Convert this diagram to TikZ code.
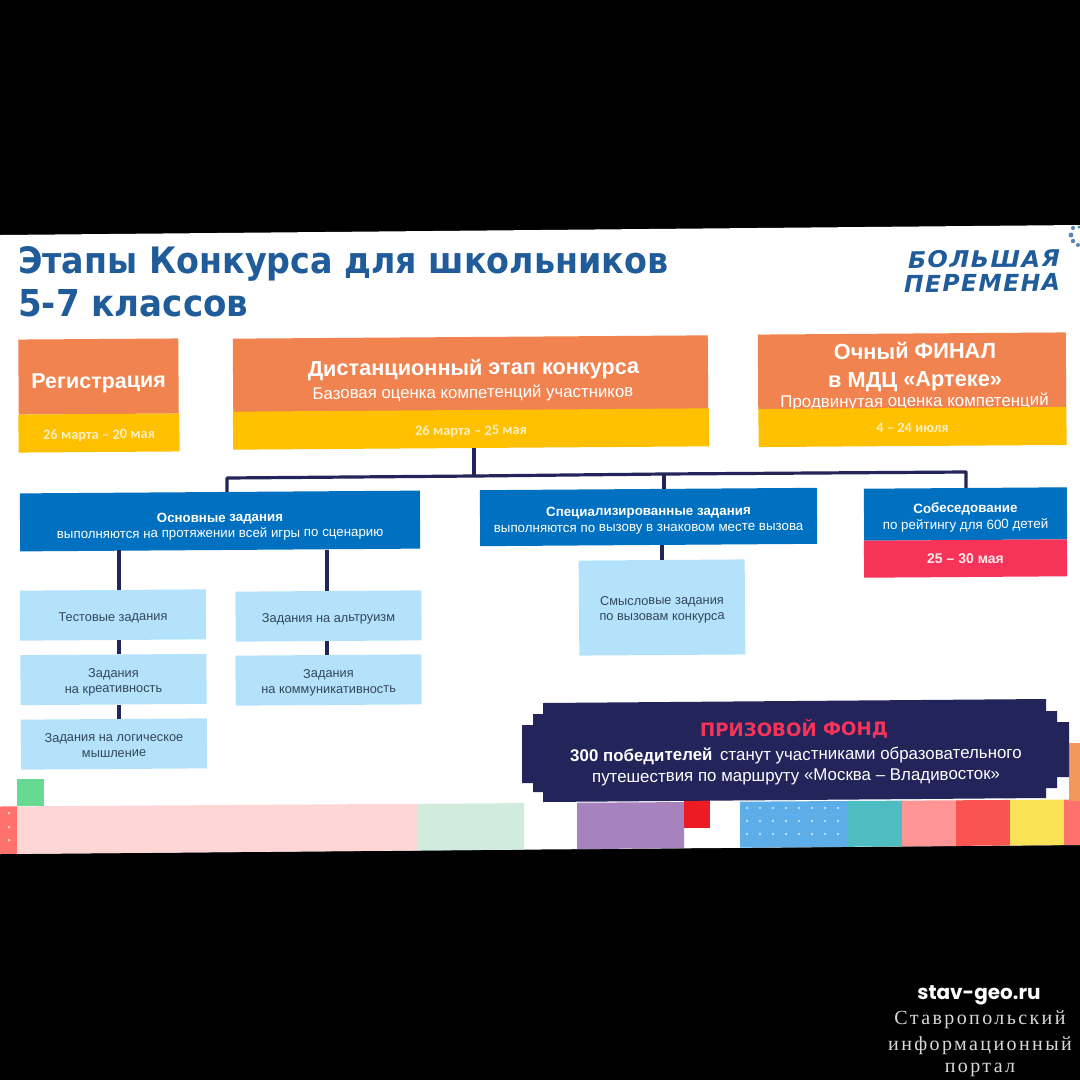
\documentclass[tikz,border=0pt]{standalone}
\usepackage{fontspec}
\setmainfont{Liberation Sans}
\newfontfamily\disp{DejaVu Sans}[BoldFont={DejaVu Sans Bold}]
\newfontfamily\logofont{DejaVu Sans}[BoldItalicFont={DejaVu Sans Bold Oblique},LetterSpace=6]
\newfontfamily\datefont{Carlito}
\newfontfamily\wmsans{Poppins}
\newfontfamily\wmserif{Liberation Serif}[LetterSpace=12]
\definecolor{orng}{HTML}{F0834F}
\definecolor{yel}{HTML}{FFC000}
\definecolor{blu}{HTML}{0070C0}
\definecolor{lblu}{HTML}{B4E2FB}
\definecolor{rd}{HTML}{F6345A}
\definecolor{navy}{HTML}{22245A}
\definecolor{ttl}{HTML}{1F5C99}
\definecolor{pale}{HTML}{FFEFC0}
\definecolor{ltxt}{HTML}{33465A}
\definecolor{spink}{HTML}{FFD6D6}
\definecolor{sgreen}{HTML}{CFECDF}
\definecolor{spurple}{HTML}{A682BE}
\definecolor{sred}{HTML}{ED1C24}
\definecolor{sblue}{HTML}{5DAEE8}
\definecolor{steal}{HTML}{4DBDC2}
\definecolor{ssalmon}{HTML}{FF9595}
\definecolor{stomato}{HTML}{F95450}
\definecolor{syellow}{HTML}{FBE357}
\definecolor{scoral}{HTML}{FF716D}
\definecolor{sorange}{HTML}{F3975C}
\definecolor{smint}{HTML}{66D993}
\newcommand{\fsl}[2]{\fontsize{#1}{#2}\selectfont}
\newcommand{\tx}[2]{\smash{\raisebox{#1pt}{\begin{tabular}{@{}c@{}}#2\end{tabular}}}}
\newcommand{\stripbar}[3]{\fill[#3] (#1,{806.5-0.0065*#1}) -- (#2,{806.5-0.0065*#2}) -- (#2,{854-0.0085*#2}) -- (#1,{854-0.0085*#1}) -- cycle;}
\tikzset{
 tilt/.style={rotate=0.4,inner sep=0pt,align=center,anchor=center},
 stagebox/.style={tilt,fill=orng,text=white},
 datebox/.style={tilt,fill=yel,text=pale,font=\datefont\bfseries\fsl{14.4}{16},minimum height=38pt},
 bluebox/.style={tilt,fill=blu,text=white},
 lightbox/.style={tilt,fill=lblu,text=ltxt,font=\fsl{12.8}{15.5},minimum width=186pt,minimum height=50pt},
 link/.style={draw=navy,line width=3.2pt},
 titletext/.style={text=ttl,inner sep=0pt,anchor=west},
 wmline/.style={text=white!85!black,inner sep=0pt,font=\wmserif\fsl{20}{22}},
}
\begin{document}
\begin{tikzpicture}[x=1pt,y=-1pt]
\useasboundingbox (0,0) rectangle (1080,1080);
\fill[black] (0,0) rectangle (1080,1080);
\fill[white] (0,235) -- (1080,225) -- (1080,845) -- (0,854) -- cycle;
% title
\node[titletext] (t1) at (18,264) {\resizebox{650pt}{27pt}{\disp\bfseries Этапы Конкурса для школьников}};
\node[titletext] (t2) at (18,303) {\resizebox{230pt}{27pt}{\disp\bfseries 5-7 классов}};
% logo
\node[text=ttl,inner sep=0pt,rotate=0.5] (logo1) at (984,259) {\resizebox{152pt}{17pt}{\logofont\bfseries\itshape БОЛЬШАЯ}};
\node[text=ttl,inner sep=0pt,rotate=0.5] (logo2) at (982,283) {\resizebox{156pt}{17pt}{\logofont\bfseries\itshape ПЕРЕМЕНА}};
\foreach \px/\py/\r in {1073/228/2,1071/235/2.4,1073/241/2.2,1078/245/2,1079/227/1.6}{\fill[ttl!75] (\px,\py) circle (\r pt);}
% bottom strip
\stripbar{0}{17}{scoral}
\stripbar{17}{418}{spink}
\stripbar{418}{524}{sgreen}
\stripbar{577}{684}{spurple}
\fill[sred] (684,800) rectangle (710,828);
\stripbar{740}{848}{sblue}
\stripbar{848}{902}{steal}
\stripbar{902}{956}{ssalmon}
\stripbar{956}{1010}{stomato}
\stripbar{1010}{1064}{syellow}
\stripbar{1064}{1080}{scoral}
\fill[sorange] (1069,743) rectangle (1080,801);
\fill[smint] (17,779) rectangle (44,806);
\foreach \dy in {813,827,840}{\fill[white!70!scoral] (9,\dy) circle (1.5pt);}
\foreach \dy in {808,821,834}{\foreach \dx in {747,760,...,848}{\fill[white!60!sblue] (\dx,\dy) circle (1.3pt);}}
% banner
\fill[navy] (543,703) -- (1046,699) -- (1046,711) -- (1057,711) -- (1057,722) -- (1069,722) -- (1069,777) -- (1057,777) -- (1057,788) -- (1046,788) -- (1046,798) -- (543,802) -- (543,792) -- (533,792) -- (533,783) -- (522,783) -- (522,725) -- (533,725) -- (533,714) -- (543,714) -- cycle;
\node[inner sep=0pt,text=rd,rotate=0.4] (prize) at (794,729) {\resizebox{188pt}{17pt}{\disp\bfseries ПРИЗОВОЙ ФОНД}};
\node[inner sep=0pt,text=white,align=center,font=\fsl{16.9}{21},rotate=0.4] (prizetext) at (796,766) {\textbf{300 победителей}\, станут участниками образовательного\\путешествия по маршруту «Москва – Владивосток»};
% stages
\node[stagebox,minimum width=160pt,minimum height=75pt,font=\bfseries\fsl{21.5}{24}] (reg) at (98.5,376.5) {\tx{-12}{Регистрация}};
\node[datebox,minimum width=161pt] (regdate) at (99,433) {\tx{-6.5}{26 марта – 20 мая}};
\node[stagebox,minimum width=475pt,minimum height=74pt,font=\fsl{16.8}{23}] (dist) at (470.5,374) {\tx{-12.25}{{\bfseries\fsl{21.7}{24} Дистанционный этап конкурса}\\{\fsl{16.8}{18} Базовая оценка компетенций участников}}};
\node[datebox,minimum width=476pt] (distdate) at (471,429) {\tx{-6.5}{26 марта – 25 мая}};
\node[stagebox,minimum width=308pt,minimum height=75pt,font=\fsl{16.9}{20}] (final) at (912,371) {\tx{-11}{{\bfseries\fsl{21.8}{27} Очный ФИНАЛ}\\[7pt]{\bfseries\fsl{21.8}{27} в МДЦ «Артеке»}\\{\fsl{16.9}{17} Продвинутая оценка компетенций}}};
\node[datebox,minimum width=308pt] (finaldate) at (912.5,427) {\tx{-6}{4 – 24 июля}};
% blue
\node[bluebox,minimum width=400pt,minimum height=58pt,font=\fsl{13.3}{15.5}] (main) at (220,521) {\tx{-9.25}{\textbf{Основные задания}\\выполняются на протяжении всей игры по сценарию}};
\node[bluebox,minimum width=337pt,minimum height=56pt,font=\fsl{13.35}{16}] (spec) at (648.5,517) {\tx{-7}{\textbf{Специализированные задания}\\выполняются по вызову в знаковом месте вызова}};
\node[bluebox,minimum width=203pt,minimum height=52pt,font=\fsl{13.4}{16.5}] (sob) at (965.5,514) {\tx{-7.25}{\textbf{Собеседование}\\по рейтингу для 600 детей}};
\node[tilt,fill=rd,text=white!90!rd,minimum width=203pt,minimum height=37pt,font=\bfseries\fsl{14}{16}] (sobdate) at (965.5,558.5) {\tx{-5.5}{25 – 30 мая}};
% light
\node[lightbox] (test) at (113,615) {\tx{-6}{Тестовые задания}};
\node[lightbox] (krea) at (113.5,679.5) {\tx{-5.5}{Задания\\на креативность}};
\node[lightbox] (logic) at (114,744) {\tx{-5.25}{Задания на логическое\\мышление}};
\node[lightbox] (altr) at (328.5,616) {\tx{-6}{Задания на альтруизм}};
\node[lightbox] (komm) at (328.5,680) {\tx{-5.5}{Задания\\на коммуникативность}};
\node[lightbox,minimum width=166pt,minimum height=95pt] (smysl) at (662,607.5) {\tx{-5}{Смысловые задания\\по вызовам конкурса}};
% connectors
\coordinate (hub) at (474,476);
\coordinate (hubl) at (227,478);
\coordinate (hubm) at (664,474);
\coordinate (hubr) at (966,472);
\coordinate (d1) at (119,560);
\coordinate (d2) at (327,560);
\coordinate (d3) at (662,560);
\path[link] (distdate.south -| hub) -- (hub);
\path[link,line join=round] (main.north -| hubl) -- (hubl) -- (hub) -- (hubm) -- (hubr) -- (sob.north -| hubr);
\path[link] (hubm) -- (spec.north -| hubm);
\path[link] (main.south -| d1) -- (test.north -| d1);
\path[link] (test.south -| d1) -- (krea.north -| d1);
\path[link] (krea.south -| d1) -- (logic.north -| d1);
\path[link] (main.south -| d2) -- (altr.north -| d2);
\path[link] (altr.south -| d2) -- (komm.north -| d2);
\path[link] (spec.south -| d3) -- (smysl.north -| d3);
% watermark
\node[inner sep=0pt,text=white,font=\wmsans\bfseries\fsl{20}{24}] (wm0) at (979,995.5) {stav-geo.ru};
\node[wmline] (wm1) at (980,1020) {Ставропольский};
\node[wmline] (wm2) at (980,1045.5) {информационный};
\node[wmline] (wm3) at (980,1070) {портал};
\end{tikzpicture}
\end{document}
